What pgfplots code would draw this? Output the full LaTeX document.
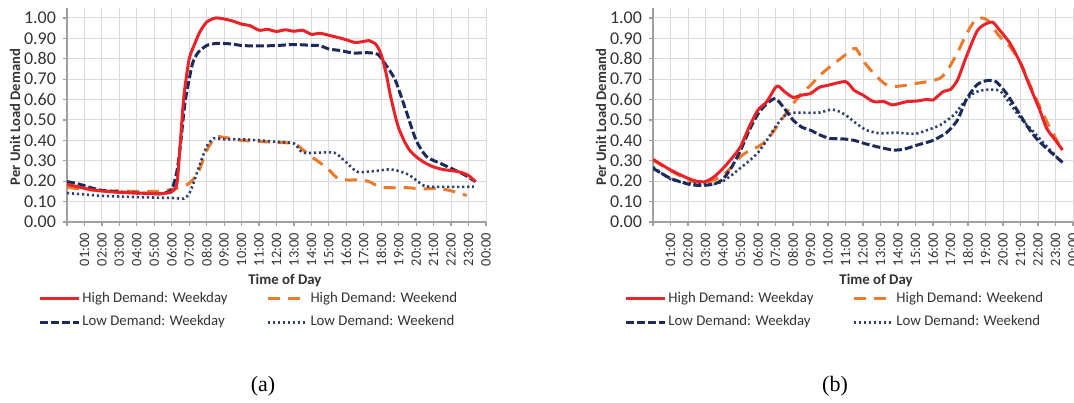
\documentclass[border=0pt]{standalone}
\usepackage{pgfplots}
\pgfplotsset{compat=1.18}
\usepackage{fontspec}
\setmainfont{Carlito}
\newfontfamily\capfont{Liberation Serif}
\definecolor{cRed}{HTML}{E8232A}
\definecolor{cOrange}{HTML}{EA7A2C}
\definecolor{cNavy}{HTML}{1C2A5C}
\definecolor{cDot}{HTML}{2D4070}
\definecolor{gridgray}{HTML}{DADADA}
\definecolor{axisgray}{HTML}{A0A0A0}
\definecolor{txt}{HTML}{333333}

\pgfplotsset{
 loadaxis/.style={
  scale only axis, width=209.5pt, height=107.1pt,
  xmin=0, xmax=24, ymin=0, ymax=1.05,
  axis lines=left, axis line style={-, draw=axisgray, line width=0.6pt},
  xtick={0,1,...,24},
  xticklabels={,01:00,02:00,03:00,04:00,05:00,06:00,07:00,08:00,09:00,10:00,11:00,12:00,13:00,14:00,15:00,16:00,17:00,18:00,19:00,20:00,21:00,22:00,23:00,00:00},
  ytick={0,0.1,0.2,0.3,0.4,0.5,0.6,0.7,0.8,0.9,1.0},
  grid=major, major grid style={draw=gridgray, line width=0.5pt},
  tick align=outside, major tick length=2pt,
  tick style={draw=axisgray, line width=0.6pt},
  yticklabel style={font=\fontsize{9}{10}\selectfont, text=txt,
     /pgf/number format/.cd, fixed, fixed zerofill, precision=2, assume math mode=true},
  xticklabel style={rotate=90, anchor=east, font=\fontsize{7.2}{8}\selectfont, text=txt},
  ylabel={Per Unit Load Demand},
  ylabel style={at={(axis description cs:-0.124,0.49)}, anchor=center, font=\bfseries\fontsize{7.3}{8.5}\selectfont, text=txt},
  xlabel={Time of Day},
  xlabel style={font=\bfseries\fontsize{7.4}{8.5}\selectfont, text=txt, anchor=center},
  legend columns=2,
  legend style={at={(axis description cs:-0.069,-0.317)}, anchor=north west,
     draw=none, fill=none, inner sep=0pt,
     font=\fontsize{7.4}{8.5}\selectfont, text=txt,
     row sep=3pt, nodes={inner sep=1pt}, cells={anchor=west},
     /tikz/every even column/.append style={column sep=18.5pt}},
  legend image code/.code={\draw[##1] (0pt,0pt) -- (19.5pt,0pt);},
 },
 hwd/.style={draw=cRed, line width=1.5pt, smooth, tension=0.4, no markers},
 hwe/.style={draw=cOrange, line width=1.5pt, dash pattern=on 6pt off 4pt, smooth, tension=0.4, no markers},
 lwd/.style={draw=cNavy, line width=1.5pt, dash pattern=on 4pt off 1.5pt, smooth, tension=0.4, no markers},
 lwe/.style={draw=cDot, line width=1.3pt, dash pattern=on 1.1pt off 1.4pt, smooth, tension=0.4, no markers},
}

\begin{document}
\begin{tikzpicture}
% ---------------- (a) ----------------
\begin{axis}[loadaxis, at={(33.5pt,90pt)}, anchor=south west,
  xlabel style={at={(axis description cs:0.52,-0.271)}}]
\addlegendimage{hwd}\addlegendentry{High Demand: Weekday}
\addlegendimage{hwe}\addlegendentry{High Demand: Weekend}
\addlegendimage{lwd}\addlegendentry{Low Demand: Weekday}
\addlegendimage{lwe}\addlegendentry{Low Demand: Weekend}
\addplot[hwe, forget plot] coordinates {(0,0.17)(1,0.16)(2,0.152)(3,0.152)(4,0.15)(5,0.15)(5.5,0.152)(6,0.16)(6.5,0.17)(7,0.19)(7.5,0.24)(8,0.35)(8.5,0.415)(9,0.415)(10,0.40)(11,0.395)(12,0.39)(13,0.385)(13.5,0.355)(14,0.32)(14.5,0.29)(15,0.255)(15.5,0.214)(16,0.206)(16.8,0.206)(17.3,0.198)(17.9,0.173)(18.5,0.168)(19.5,0.168)(20.3,0.162)(21.2,0.165)(21.9,0.155)(22.5,0.14)(22.9,0.13)};
\addplot[lwe, forget plot] coordinates {(0,0.142)(1,0.135)(2,0.128)(3,0.125)(4,0.122)(5,0.12)(6,0.118)(6.7,0.115)(7,0.14)(7.2,0.18)(7.6,0.28)(8,0.37)(8.4,0.41)(9,0.405)(10,0.405)(11,0.40)(12,0.393)(13,0.385)(13.5,0.34)(14.4,0.34)(15.3,0.34)(15.85,0.304)(16.6,0.247)(17.3,0.247)(18.1,0.255)(18.5,0.258)(19,0.25)(19.6,0.23)(20.4,0.18)(20.8,0.173)(21.5,0.172)(22.5,0.172)(23.3,0.173)};
\addplot[lwd, forget plot] coordinates {(0,0.198)(0.5,0.19)(1,0.178)(1.5,0.165)(2,0.155)(3,0.148)(4,0.142)(5,0.138)(5.5,0.14)(6,0.16)(6.3,0.25)(6.5,0.38)(6.75,0.58)(7,0.70)(7.2,0.78)(7.5,0.83)(8,0.865)(8.5,0.875)(9,0.875)(9.5,0.872)(10,0.865)(11,0.863)(12,0.865)(13,0.87)(14,0.866)(14.5,0.864)(15,0.848)(15.7,0.84)(16.4,0.828)(17.2,0.83)(17.8,0.822)(18.2,0.778)(18.8,0.696)(19.4,0.55)(20,0.40)(20.6,0.32)(21.4,0.287)(22.2,0.255)(22.8,0.23)(23.4,0.198)};
\addplot[hwd, forget plot] coordinates {(0,0.185)(0.5,0.175)(1,0.165)(1.5,0.158)(2,0.152)(3,0.145)(4,0.142)(5,0.14)(5.5,0.14)(6,0.148)(6.3,0.19)(6.5,0.40)(6.7,0.62)(7,0.80)(7.3,0.87)(7.6,0.93)(8,0.98)(8.5,1.0)(9,0.995)(9.5,0.985)(10,0.97)(10.5,0.962)(11,0.94)(11.5,0.944)(12,0.934)(12.5,0.942)(13,0.935)(13.5,0.94)(14,0.92)(14.5,0.925)(15,0.915)(15.5,0.905)(16,0.893)(16.5,0.88)(17,0.885)(17.3,0.889)(17.7,0.87)(18,0.82)(18.3,0.72)(18.5,0.63)(18.8,0.52)(19,0.46)(19.3,0.40)(19.6,0.355)(20,0.32)(20.5,0.29)(21,0.27)(21.5,0.258)(22,0.252)(22.5,0.245)(23,0.228)(23.4,0.198)};
\end{axis}
% ---------------- (b) ----------------
\begin{axis}[loadaxis, at={(326.5pt,90pt)}, anchor=south west, width=210pt,
  xlabel style={at={(axis description cs:0.531,-0.271)}}]
\addlegendimage{hwd}\addlegendentry{High Demand: Weekday}
\addlegendimage{hwe}\addlegendentry{High Demand: Weekend}
\addlegendimage{lwd}\addlegendentry{Low Demand: Weekday}
\addlegendimage{lwe}\addlegendentry{Low Demand: Weekend}
\addplot[hwe, forget plot] coordinates {(0,0.304)(1,0.252)(2,0.206)(2.5,0.195)(3,0.19)(3.5,0.206)(4,0.23)(4.5,0.27)(5,0.32)(5.5,0.35)(6,0.369)(6.5,0.40)(7,0.458)(7.5,0.52)(8,0.58)(8.5,0.63)(9,0.67)(9.55,0.72)(10.1,0.76)(10.7,0.80)(11.3,0.84)(11.6,0.85)(12.1,0.78)(12.6,0.73)(13.2,0.68)(13.7,0.665)(14.3,0.668)(15.1,0.68)(15.8,0.69)(16.4,0.705)(16.8,0.74)(17.4,0.83)(17.9,0.92)(18.4,0.99)(18.75,1.0)(19.1,0.99)(19.8,0.91)(20.4,0.86)(21,0.78)(21.5,0.68)(22.1,0.565)(22.65,0.467)(23.2,0.38)};
\addplot[lwe, forget plot] coordinates {(0,0.27)(1,0.21)(2,0.19)(3,0.185)(3.5,0.186)(4,0.2)(4.5,0.23)(5,0.265)(5.5,0.3)(6,0.34)(6.5,0.40)(7,0.467)(7.5,0.52)(8,0.535)(9,0.535)(9.55,0.537)(10.1,0.55)(10.45,0.548)(11,0.525)(11.6,0.484)(12.2,0.45)(12.95,0.435)(13.9,0.438)(14.95,0.432)(15.65,0.45)(16.4,0.475)(17.2,0.525)(17.7,0.58)(18.3,0.63)(18.9,0.647)(19.8,0.644)(20.4,0.58)(21,0.51)(21.7,0.446)(22.5,0.37)(23.4,0.29)};
\addplot[lwd, forget plot] coordinates {(0,0.263)(1,0.214)(2,0.186)(2.5,0.18)(3,0.18)(3.5,0.186)(4,0.21)(4.5,0.27)(5,0.35)(5.5,0.45)(6,0.53)(6.5,0.58)(7,0.605)(7.5,0.557)(8,0.5)(8.5,0.465)(9,0.45)(9.55,0.426)(10.1,0.41)(10.9,0.407)(11.5,0.40)(12.2,0.382)(12.95,0.366)(13.7,0.353)(14.3,0.356)(15.1,0.377)(16,0.40)(16.8,0.44)(17.4,0.50)(17.9,0.60)(18.5,0.672)(19.05,0.693)(19.6,0.688)(20.2,0.63)(20.8,0.549)(21.4,0.467)(21.9,0.41)(22.5,0.36)(23.4,0.292)};
\addplot[hwd, forget plot] coordinates {(0,0.307)(1,0.255)(2,0.214)(2.5,0.2)(3,0.198)(3.5,0.222)(4,0.263)(4.5,0.312)(5,0.369)(5.5,0.467)(6,0.549)(6.5,0.59)(7,0.66)(7.2,0.664)(7.5,0.64)(8,0.611)(8.5,0.622)(9,0.63)(9.5,0.66)(10,0.67)(11,0.688)(11.5,0.645)(12,0.622)(12.6,0.59)(13.2,0.59)(13.7,0.574)(14.5,0.59)(15.1,0.593)(15.65,0.601)(16,0.598)(16.6,0.64)(17,0.65)(17.4,0.696)(17.9,0.81)(18.5,0.933)(18.9,0.966)(19.4,0.98)(19.8,0.941)(20.4,0.876)(21,0.778)(21.5,0.672)(22.1,0.549)(22.5,0.458)(23,0.40)(23.4,0.353)};
\end{axis}
\node[font=\capfont\fontsize{11}{12}\selectfont] at (131.5pt,8pt) {(a)};
\node[font=\capfont\fontsize{11}{12}\selectfont] at (417.5pt,8pt) {(b)};
\pgfresetboundingbox
\path[use as bounding box] (0pt,0pt) rectangle (537pt,201pt);
\end{tikzpicture}
\end{document}
